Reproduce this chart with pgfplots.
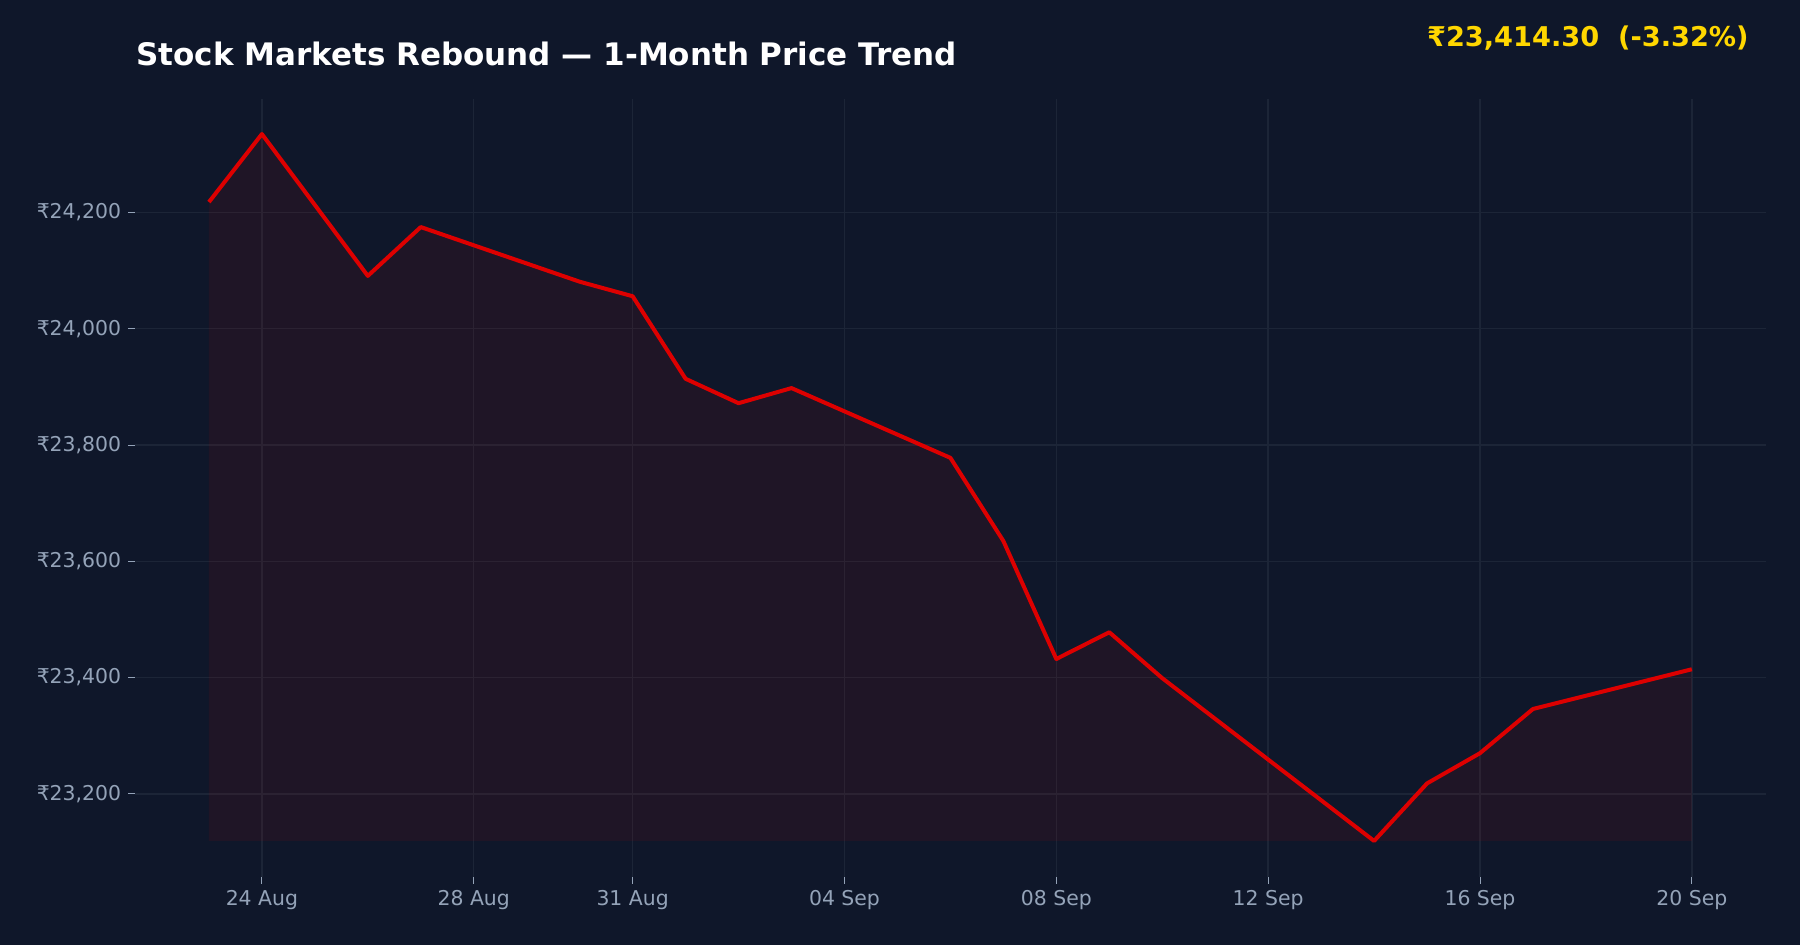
\documentclass[border=0pt]{standalone}
\usepackage{fontspec}
\setmainfont{DejaVu Sans}
\usepackage{pgfplots}
\pgfplotsset{compat=1.18}
\usepgfplotslibrary{fillbetween}

\definecolor{bg}{HTML}{0F172A}
\definecolor{gridc}{HTML}{1C2537}
\definecolor{tickc}{HTML}{94A3B8}
\definecolor{linec}{HTML}{DD0000}
\definecolor{gold}{HTML}{FFD700}

% day numbers: 23 = 23 Aug, 32 = 01 Sep, 51 = 20 Sep
\pgfplotstableread{
day price
23 24218
24 24335
26 24091
27 24175
30 24081
31 24056
32 23914
33 23872
34 23898
37 23778
38 23635
39 23432
40 23478
41 23399
45 23119
46 23218
47 23270
48 23346
51 23414.3
}\prices

\pagecolor{bg}

\begin{document}
\begin{tikzpicture}
\path (-67.4pt,-34pt) rectangle (832.6pt,438.5pt);
\begin{axis}[
    at={(0,0)}, anchor=south west,
    scale only axis,
    width=815.6pt, height=389.2pt,
    xmin=21.6, xmax=52.4,
    ymin=23057, ymax=24396,
    scaled x ticks=false, scaled y ticks=false,
    axis x line*=bottom, axis y line*=left,
    axis line style={draw=none, -},
    tick align=outside,
    major tick length=3.3pt,
    tick style={color=tickc, line width=0.5pt},
    grid=major,
    major grid style={color=gridc, line width=0.7pt},
    xtick={24,28,31,35,39,43,47,51},
    xticklabels={24 Aug,28 Aug,31 Aug,04 Sep,08 Sep,12 Sep,16 Sep,20 Sep},
    ytick={23200,23400,23600,23800,24000,24200},
    yticklabels={{₹23,200},{₹23,400},{₹23,600},{₹23,800},{₹24,000},{₹24,200}},
    ticklabel style={font=\fontsize{10.2}{12}\selectfont, color=tickc},
]
\addplot[name path=price, draw=none, forget plot] table[x=day, y=price] {\prices};
\addplot[name path=base, draw=none, forget plot] coordinates {(23,23119) (51,23119)};
\addplot[fill=linec, fill opacity=0.08, draw=none] fill between[of=price and base];
\addplot[linec, line width=2pt, line join=round] table[x=day, y=price] {\prices};
\end{axis}
\node[anchor=base west, inner sep=0pt, text=white, font=\fontsize{15.5}{18}\selectfont\bfseries]
    at (0.5pt,405.7pt) {Stock Markets Rebound — 1-Month Price Trend};
\node[anchor=base east, inner sep=0pt, text=gold, font=\fontsize{13.6}{16}\selectfont\bfseries]
    at (807.1pt,415.2pt) {₹23,414.30\ \ (-3.32\%)};
\end{tikzpicture}
\end{document}
